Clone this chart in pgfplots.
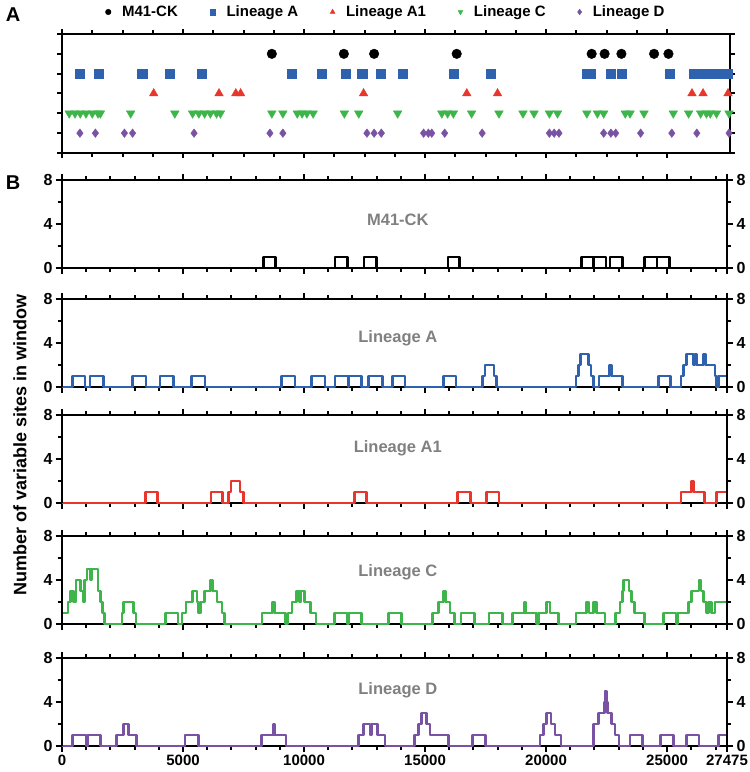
\documentclass[border=0pt]{standalone}
\usepackage{fontspec}
\setmainfont{Liberation Sans}
\usepackage{pgfplots}
\pgfplotsset{compat=1.18}

\definecolor{cA}{HTML}{2E62AE}
\definecolor{cA1}{HTML}{E8362C}
\definecolor{cC}{HTML}{3DB54A}
\definecolor{cD}{HTML}{7A52A3}
\definecolor{ttl}{HTML}{808080}

\tikzset{ttlnode/.style={font=\bfseries\fontsize{16.5}{16.5}\selectfont, text=ttl}}

\pgfplotsset{
  base/.style={scale only axis, clip=false,
    axis line style={line width=2.4pt},
    tick style={line width=2pt, black}, tick align=outside,
    major tick length=6pt, minor tick length=4pt,
    ticklabel style={font=\bfseries\fontsize{16}{16}\selectfont},
    scaled x ticks=false, scaled y ticks=false,
    /pgf/number format/assume math mode=true,
    /pgf/number format/1000 sep={}},
  pB/.style={base, width=665pt, height=88pt,
    xmin=0, xmax=27475, ymin=0, ymax=8,
    xtick={0,5000,10000,15000,20000,25000,27475},
    minor xtick={1000,2000,...,27000}, xticklabels={},
    xtick pos=both,
    ytick={0,4,8}, yticklabels={0,4,8}, minor ytick={2,6},
    ytick pos=both, yticklabel pos=left},
  pBr/.style={pB, yticklabel pos=right, hide x axis},
  ln/.style={const plot, line width=2.6pt, line join=round},
}

\begin{document}
\begin{tikzpicture}[x=1pt,y=1pt]
\useasboundingbox (0,0) rectangle (750,772);

\node[font=\bfseries\fontsize{20}{20}\selectfont] at (13,757) {A};
\node[font=\bfseries\fontsize{20}{20}\selectfont] at (13,589) {B};
\node[rotate=90, font=\bfseries\fontsize{18}{18}\selectfont] at (20,327)
  {Number of variable sites in window};

% panel A: site positions
\begin{axis}[base, at={(62pt,619pt)}, anchor=south west,
  width=668pt, height=119pt,
  major tick length=5pt, minor tick length=4pt,
  xmin=0, xmax=27600, ymin=0, ymax=6,
  xtick={0,5000,10000,15000,20000,25000}, minor x tick num=3,
  ytick={0,1,...,6}, xticklabels={}, yticklabels={},
  xtick pos=both, ytick pos=both,
  legend columns=5,
  legend image post style={mark size=2.8pt},
  legend style={draw=none, fill=none, at={(0.485,1.185)}, anchor=center,
    font=\bfseries\fontsize{15}{15}\selectfont,
    /tikz/every odd column/.append style={column sep=9pt},
    /tikz/every even column/.append style={column sep=30pt}},
]
\addplot[only marks, mark=*, mark size=4.8pt, black] coordinates {
  (8670,5) (11646,5) (12896,5) (16308,5) (21884,5) (22419,5)
  (23114,5) (24463,5) (25058,5)};
\addlegendentry{M41-CK}
\addplot[only marks, mark=square*, mark size=4.6pt, cA] coordinates {
  (740,4) (1520,4) (3313,4) (4464,4) (5773,4) (9484,4) (10714,4)
  (11725,4) (12400,4) (13154,4) (14067,4) (16189,4) (17717,4)
  (21700,4) (21830,4) (22677,4) (23114,4) (25098,4) (26090,4)
  (26387,4) (26685,4) (26982,4) (27280,4) (27520,4)};
\addlegendentry{Lineage A}
\addplot[only marks, mark=triangle*, mark size=5pt, cA1] coordinates {
  (3789,3) (6488,3) (7182,3) (7380,3) (12460,3) (16725,3) (17995,3)
  (26030,3) (26486,3) (27518,3)};
\addlegendentry{Lineage A1}
\addplot[only marks, mark=triangle*, mark size=5pt, cC,
  mark options={rotate=180}] coordinates {
  (298,2) (536,2) (754,2) (992,2) (1250,2) (1488,2) (1587,2) (2837,2)
  (4662,2) (5396,2) (5654,2) (5892,2) (6130,2) (6388,2) (6547,2)
  (8670,2) (9126,2) (9722,2) (9920,2) (10118,2) (10376,2) (11666,2)
  (12261,2) (13868,2) (15693,2) (15932,2) (16170,2) (16924,2)
  (18054,2) (19046,2) (19503,2) (20138,2) (20475,2) (21685,2)
  (22122,2) (22380,2) (23273,2) (23471,2) (24046,2) (25256,2)
  (25891,2) (26387,2) (26625,2) (26784,2) (27042,2) (27560,2)};
\addlegendentry{Lineage C}
\addplot[only marks, mark=diamond*, mark size=4.3pt, cD] coordinates {
  (740,1) (1380,1) (2579,1) (2916,1) (5456,1) (8591,1) (9126,1)
  (12599,1) (12896,1) (13194,1) (14940,1) (15138,1) (15277,1)
  (15812,1) (17360,1) (20138,1) (20336,1) (20534,1) (22380,1)
  (22677,1) (22876,1) (23908,1) (25196,1) (26228,1) (27560,1)};
\addlegendentry{Lineage D}
\end{axis}

% panel B1: M41-CK
\begin{axis}[pB, at={(62pt,504pt)}, anchor=south west]
\addplot[ln, black] coordinates {
  (0,0) (8320,1) (8830,0) (11280,1) (11790,0) (12480,1) (13000,0)
  (15940,1) (16420,0) (21470,1) (21960,0) (21961,1) (22470,0)
  (22645,1) (23155,0) (24065,1) (24575,0) (24576,1) (25095,0)
  (27475,0)};
\node[ttlnode] at (rel axis cs:0.505,0.545) {M41-CK};
\end{axis}
\begin{axis}[pBr, at={(62pt,504pt)}, anchor=south west]
\addplot[draw=none] coordinates {(0,0)};
\end{axis}

% panel B2: Lineage A
\begin{axis}[pB, at={(62pt,385pt)}, anchor=south west]
\addplot[ln, cA] coordinates {
  (0,0) (441,1) (950,0) (1157,1) (1708,0) (2920,1) (3471,0)
  (4050,1) (4601,0) (5358,1) (5909,0) (9077,1) (9628,0)
  (10317,1) (10868,0) (11281,1) (11832,0) (11833,1) (12383,0)
  (12658,1) (13237,0) (13650,1) (14174,0) (15758,1) (16281,0)
  (17369,1) (17479,2) (17851,1) (17948,0)
  (21240,1) (21336,2) (21433,3) (21749,2) (21860,1) (21956,0)
  (22190,1) (22617,2) (22713,1) (23154,0) (24642,1) (25152,0)
  (25579,1) (25675,2) (25813,3) (26088,2) (26157,3) (26226,2)
  (26501,3) (26598,2) (26983,1) (27052,0) (27121,1) (27475,1)};
\node[ttlnode] at (rel axis cs:0.505,0.555) {Lineage A};
\end{axis}
\begin{axis}[pBr, at={(62pt,385pt)}, anchor=south west]
\addplot[draw=none] coordinates {(0,0)};
\end{axis}

% panel B3: Lineage A1
\begin{axis}[pB, at={(62pt,269pt)}, anchor=south west]
\addplot[ln, cA1] coordinates {
  (0,0) (3457,1) (3953,0) (6157,1) (6639,0) (6873,1) (6983,2)
  (7355,1) (7493,0) (12080,1) (12590,0) (16350,1) (16887,0)
  (17548,1) (18058,0) (25578,1) (26019,2) (26088,1) (26543,0)
  (27052,1) (27475,1)};
\node[ttlnode] at (rel axis cs:0.505,0.625) {Lineage A1};
\end{axis}
\begin{axis}[pBr, at={(62pt,269pt)}, anchor=south west]
\addplot[draw=none] coordinates {(0,0)};
\end{axis}

% panel B4: Lineage C
\begin{axis}[pB, at={(62pt,148pt)}, anchor=south west]
\addplot[ln, cC] coordinates {
  (0,1) (248,2) (344,3) (482,2) (578,4) (758,3) (860,2) (930,4)
  (1033,5) (1170,4) (1230,5) (1488,3) (1584,2) (1680,1) (1763,0)
  (2479,1) (2548,2) (2961,1) (3058,0) (4270,1) (4793,0)
  (4959,1) (5124,2) (5399,3) (5578,2) (5647,1) (5716,2) (5895,3)
  (6129,4) (6226,3) (6405,2) (6612,1) (6708,0)
  (8264,1) (8705,2) (8788,1) (9229,0) (9339,1) (9504,2) (9683,3)
  (9820,2) (9870,3) (10028,2) (10262,1) (10496,0)
  (11267,1) (11777,0) (11846,1) (12369,0)
  (13485,1) (14036,0) (15303,1) (15551,2) (15758,3) (15854,2)
  (16033,1) (16212,0) (16488,1) (17039,0) (17645,1) (18196,0)
  (18609,1) (19105,2) (19160,1) (19614,0) (19683,1) (20027,2)
  (20165,1) (20510,0) (21240,1) (21681,2) (21777,1) (21956,2)
  (22094,1) (22438,0) (22879,1) (23058,2) (23154,3) (23196,4)
  (23430,3) (23540,2) (23650,1) (24063,0) (24849,1) (25372,0)
  (25427,1) (25882,2) (26019,3) (26322,4) (26405,3) (26501,2)
  (26639,1) (26708,2) (26846,1) (26983,2) (27475,2)};
\node[ttlnode] at (rel axis cs:0.505,0.59) {Lineage C};
\end{axis}
\begin{axis}[pBr, at={(62pt,148pt)}, anchor=south west]
\addplot[draw=none] coordinates {(0,0)};
\end{axis}

% panel B5: Lineage D
\begin{axis}[pB, at={(62pt,26pt)}, anchor=south west,
  xticklabels={0,5000,10000,15000,20000,25000,27475},
  xticklabel style={font=\bfseries\fontsize{15}{15}\selectfont, yshift=0.5pt}]
\addplot[ln, cD] coordinates {
  (0,0) (441,1) (992,0) (1047,1) (1598,0) (2259,1) (2534,2)
  (2741,1) (3085,0) (5083,1) (5634,0) (8251,1) (8733,2) (8774,1)
  (9256,0) (12245,1) (12452,2) (12727,1) (12796,2) (13044,1)
  (13347,0) (14559,1) (14724,2) (14862,3) (15069,2) (15206,1)
  (15965,0) (16957,1) (17508,0) (19752,1) (19890,2) (20027,3)
  (20206,2) (20372,1) (20620,0) (21956,2) (22163,3) (22410,4)
  (22438,5) (22493,4) (22534,3) (22713,2) (22851,1) (23017,0)
  (23471,1) (23981,0) (24739,1) (25262,0) (25813,1) (26322,0)
  (27121,1) (27475,1)};
\node[ttlnode] at (rel axis cs:0.505,0.635) {Lineage D};
\end{axis}
\begin{axis}[pBr, at={(62pt,26pt)}, anchor=south west]
\addplot[draw=none] coordinates {(0,0)};
\end{axis}
\end{tikzpicture}
\end{document}
